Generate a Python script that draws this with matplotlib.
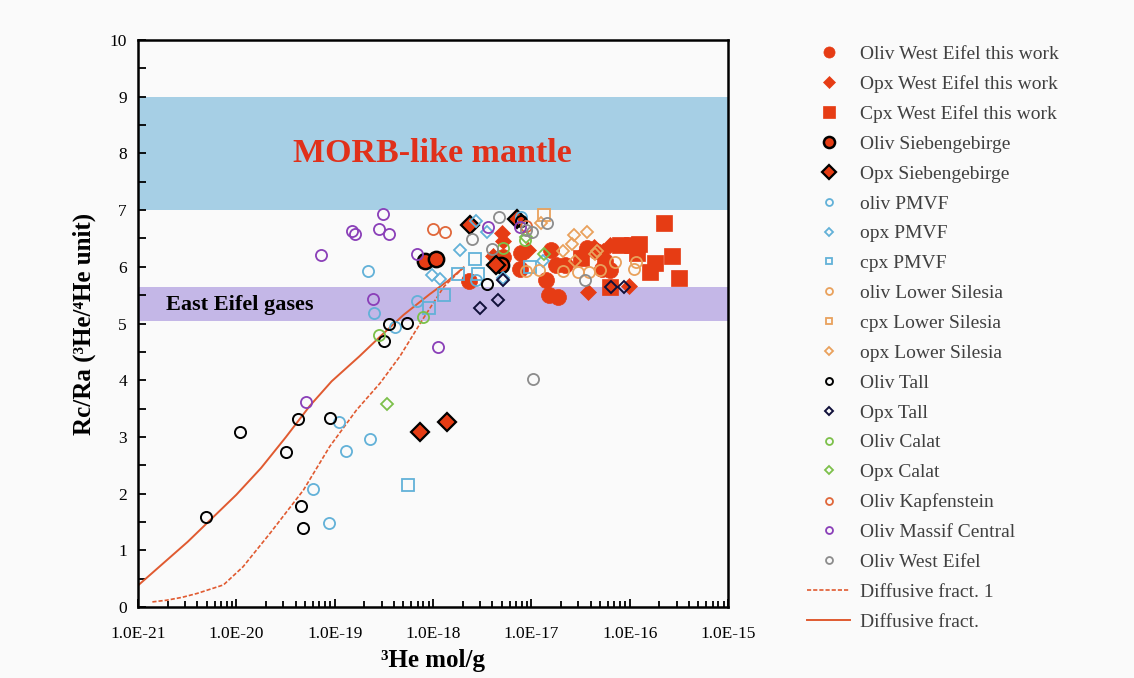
import numpy as np
import matplotlib
matplotlib.use('Agg')
import matplotlib.pyplot as plt
from matplotlib.ticker import FixedLocator, MultipleLocator, LogLocator, NullFormatter

plt.rcParams['font.family'] = ['Liberation Serif', 'DejaVu Serif']

# ---- data (x = 3He mol/g, y = Rc/Ra) ----
oliv_we_x = [2.3e-18, 5.2e-18, 7.8e-18, 7.6e-18, 1.4e-17, 1.6e-17, 1.5e-17, 1.85e-17,
             1.8e-17, 2.2e-17, 3.7e-17, 4.5e-17, 5.2e-17, 6.3e-17, 5.6e-17]
oliv_we_y = [5.75, 6.17, 6.24, 5.96, 5.77, 6.30, 5.50, 5.46,
             6.03, 6.03, 6.33, 6.28, 5.96, 5.94, 6.10]
opx_we_x = [5.0e-18, 5.2e-18, 9.3e-18, 4.1e-18, 3.8e-17, 9.8e-17, 4.3e-17, 5.4e-17, 3.2e-17, 6.3e-17]
opx_we_y = [6.59, 6.45, 6.30, 6.19, 5.56, 5.66, 6.35, 6.27, 6.20, 6.38]
cpx_we_x = [2.25e-16, 2.7e-16, 1.8e-16, 1.6e-16, 3.2e-16, 1.23e-16, 1.05e-16, 8.0e-17,
            6.3e-17, 3.2e-17, 1.2e-16]
cpx_we_y = [6.77, 6.19, 6.07, 5.90, 5.81, 6.41, 6.38, 6.38, 5.65, 6.15, 6.25]

oliv_sieb_x = [8.3e-19, 1.07e-18, 4.9e-18]
oliv_sieb_y = [6.11, 6.14, 6.03]
opx_sieb_x = [2.35e-18, 7.4e-19, 1.38e-18, 4.4e-18, 7.1e-18]
opx_sieb_y = [6.74, 3.09, 3.26, 6.04, 6.85]

oliv_pmvf_x = [2.2e-19, 2.5e-19, 6.9e-19, 4.1e-19, 1.1e-19, 1.3e-19, 2.3e-19, 6.0e-20,
               8.7e-20, 2.75e-18, 7.9e-18]
oliv_pmvf_y = [5.93, 5.19, 5.40, 4.93, 3.26, 2.76, 2.97, 2.08, 1.49, 5.77, 6.88]
opx_pmvf_x = [9.8e-19, 1.17e-18, 1.86e-18, 2.75e-18, 5.2e-18, 1.32e-17, 3.5e-18]
opx_pmvf_y = [5.86, 5.78, 6.30, 6.81, 5.81, 6.10, 6.62]
cpx_pmvf_x = [2.7e-18, 2.9e-18, 1.8e-18, 1.3e-18, 9.1e-19, 9.8e-18, 5.6e-19]
cpx_pmvf_y = [6.14, 5.88, 5.87, 5.50, 5.28, 5.99, 2.16]

oliv_ls_x = [3.0e-17, 3.9e-17, 7.1e-17, 1.1e-16, 1.17e-16, 2.1e-17, 1.2e-17, 8.9e-18, 5.0e-17]
oliv_ls_y = [5.91, 5.90, 6.09, 5.96, 6.09, 5.93, 5.94, 5.93, 5.94]
cpx_ls_x = [1.35e-17]
cpx_ls_y = [6.91]
opx_ls_x = [2.7e-17, 3.7e-17, 2.6e-17, 2.1e-17, 1.26e-17, 4.6e-17, 4.4e-17, 2.8e-17]
opx_ls_y = [6.56, 6.62, 6.40, 6.28, 6.78, 6.27, 6.22, 6.10]

oliv_tall_x = [4.9e-21, 1.1e-20, 3.2e-20, 4.2e-20, 4.5e-20, 4.8e-20, 8.9e-20, 3.55e-19,
               5.4e-19, 3.2e-19, 3.5e-18, 7.9e-18]
oliv_tall_y = [1.59, 3.08, 2.73, 3.32, 1.78, 1.40, 3.33, 5.00, 5.01, 4.69, 5.70, 6.80]
opx_tall_x = [3.0e-18, 4.6e-18, 5.1e-18, 6.5e-17, 8.7e-17]
opx_tall_y = [5.27, 5.41, 5.77, 5.64, 5.64]

oliv_calat_x = [2.8e-19, 7.9e-19, 5.2e-18, 8.7e-18]
oliv_calat_y = [4.80, 5.11, 6.33, 6.47]
opx_calat_x = [3.4e-19, 8.9e-18, 1.35e-17]
opx_calat_y = [3.58, 6.52, 6.23]

oliv_kapf_x = [1.0e-18, 1.32e-18, 8.9e-18]
oliv_kapf_y = [6.66, 6.62, 6.72]
oliv_mc_x = [3.1e-19, 1.5e-19, 1.6e-19, 2.8e-19, 3.55e-19, 7.2e-20, 6.8e-19, 2.45e-19,
             5.1e-20, 1.12e-18, 3.6e-18, 7.6e-18]
oliv_mc_y = [6.93, 6.64, 6.58, 6.67, 6.58, 6.21, 6.22, 5.44, 3.62, 4.58, 6.70, 6.71]
oliv_weo_x = [4.7e-18, 2.5e-18, 1.45e-17, 1.02e-17, 4.0e-18, 1.05e-17, 3.55e-17, 8.9e-18]
oliv_weo_y = [6.87, 6.49, 6.78, 6.61, 6.31, 4.02, 5.77, 6.65]

diff1_x = [1.4e-21, 1.95e-21, 2.8e-21, 4.0e-21, 7.4e-21, 1.17e-20, 2.2e-20, 4.8e-20,
           8.9e-20, 1.66e-19, 2.9e-19, 4.6e-19, 7.9e-19, 1.29e-18, 2.05e-18]
diff1_y = [0.09, 0.12, 0.17, 0.24, 0.39, 0.71, 1.30, 2.06, 2.83, 3.47, 3.95, 4.42, 5.08, 5.65, 5.99]
diff_x = [1.0e-21, 3.2e-21, 1.0e-20, 1.78e-20, 3.2e-20, 5.6e-20, 9.3e-20, 1.78e-19,
          2.9e-19, 5.0e-19, 9.3e-19, 1.41e-18, 2.05e-18]
diff_y = [0.38, 1.15, 1.98, 2.45, 3.00, 3.55, 3.98, 4.42, 4.77, 5.15, 5.52, 5.75, 5.99]

RED = '#e63c14'
PMVF = '#62b1d8'
LS = '#e9a15c'
CALAT = '#7cc04a'
KAPF = '#e0673a'
MC = '#8a3fb8'
GREY = '#8c8c8c'
LINE = '#e05a30'

fig = plt.figure(figsize=(11.34, 6.78), dpi=100, facecolor='#fafafa')
ax = fig.add_axes([0.1217, 0.1047, 0.5203, 0.8363])
ax.set_facecolor('#fafafa')

ax.axhspan(7, 9, color='#a6cfe5', zorder=0, lw=0)
ax.axhspan(5.05, 5.65, color='#c4b7e7', zorder=0, lw=0)
ax.text(9.8e-19, 8.0, 'MORB-like mantle', color='#e0301a', fontsize=24.5,
        fontweight='bold', ha='center', va='center')
ax.text(1.93e-21, 5.33, 'East Eifel gases', color='black', fontsize=16,
        fontweight='bold', ha='left', va='center')

handles = []
def pts(x, y, label, marker, ms, face, edge, mew=1.2, lms=None):
    h, = ax.plot(x, y, ls='none', marker=marker, ms=ms, mfc=face, mec=edge, mew=mew,
                 label=label, zorder=3)
    handles.append((h, lms))

pts(oliv_we_x, oliv_we_y, 'Oliv West Eifel this work', 'o', 11.5, RED, RED, 0.5, 8)
pts(opx_we_x, opx_we_y, 'Opx West Eifel this work', 'D', 8, RED, RED, 0.5, 6)
pts(cpx_we_x, cpx_we_y, 'Cpx West Eifel this work', 's', 11, RED, RED, 0.5, 8)
pts(oliv_sieb_x, oliv_sieb_y, 'Oliv Siebengebirge', 'o', 11, RED, 'black', 1.8, 8)
pts(opx_sieb_x, opx_sieb_y, 'Opx Siebengebirge', 'D', 9, RED, 'black', 1.6, 7)
pts(oliv_pmvf_x, oliv_pmvf_y, 'oliv PMVF', 'o', 8, 'none', PMVF, 1.3, 5)
pts(opx_pmvf_x, opx_pmvf_y, 'opx PMVF', 'D', 6, 'none', PMVF, 1.3, 4.5)
pts(cpx_pmvf_x, cpx_pmvf_y, 'cpx PMVF', 's', 8, 'none', PMVF, 1.3, 5)
pts(oliv_ls_x, oliv_ls_y, 'oliv Lower Silesia', 'o', 8, 'none', LS, 1.3, 5)
pts(cpx_ls_x, cpx_ls_y, 'cpx Lower Silesia', 's', 8, 'none', LS, 1.3, 5)
pts(opx_ls_x, opx_ls_y, 'opx Lower Silesia', 'D', 6, 'none', LS, 1.3, 4.5)
pts(oliv_tall_x, oliv_tall_y, 'Oliv Tall', 'o', 8, 'none', 'black', 1.4, 5)
pts(opx_tall_x, opx_tall_y, 'Opx Tall', 'D', 6, 'none', '#10103a', 1.4, 4.5)
pts(oliv_calat_x, oliv_calat_y, 'Oliv Calat', 'o', 8, 'none', CALAT, 1.3, 5)
pts(opx_calat_x, opx_calat_y, 'Opx Calat', 'D', 6, 'none', CALAT, 1.3, 4.5)
pts(oliv_kapf_x, oliv_kapf_y, 'Oliv Kapfenstein', 'o', 8, 'none', KAPF, 1.3, 5)
pts(oliv_mc_x, oliv_mc_y, 'Oliv Massif Central', 'o', 8, 'none', MC, 1.3, 5)
pts(oliv_weo_x, oliv_weo_y, 'Oliv West Eifel', 'o', 8, 'none', GREY, 1.3, 5)

l1, = ax.plot(diff1_x, diff1_y, ls=(0, (2.5, 1.2)), color=LINE, lw=1.2,
              label='Diffusive fract. 1', zorder=2)
l2, = ax.plot(diff_x, diff_y, ls='-', color=LINE, lw=1.4, label='Diffusive fract.', zorder=2)

ax.set_xscale('log')
ax.set_xlim(1e-21, 1e-15)
ax.set_ylim(0, 10)
ax.xaxis.set_major_locator(FixedLocator([10.0 ** e for e in range(-21, -14)]))
ax.xaxis.set_minor_locator(LogLocator(base=10, subs=np.arange(2, 10), numticks=100))
ax.xaxis.set_minor_formatter(NullFormatter())
ax.set_xticklabels(['1.0E-%d' % e for e in range(21, 14, -1)])
ax.yaxis.set_major_locator(MultipleLocator(1))
ax.yaxis.set_minor_locator(MultipleLocator(0.5))
ax.tick_params(axis='both', which='both', direction='in', labelsize=12.5, width=1.3,
               colors='black')
ax.tick_params(axis='y', which='major', pad=8)
ax.tick_params(axis='x', which='major', pad=14)
ax.tick_params(axis='both', which='major', length=6)
ax.tick_params(axis='both', which='minor', length=6)
ax.tick_params(axis='x', which='minor', length=4)
for s in ax.spines.values():
    s.set_linewidth(1.8)

ax.set_xlabel('³He mol/g', fontsize=18, fontweight='bold', labelpad=5)
ax.set_ylabel('Rc/Ra (³He/⁴He unit)', fontsize=18, fontweight='bold', labelpad=10)

hs = [h for h, _ in handles] + [l1, l2]
leg = fig.legend(hs, [h.get_label() for h in hs], loc='upper left',
                 bbox_to_anchor=(0.705, 0.945), frameon=False, fontsize=14,
                 labelspacing=0.63, handlelength=2.2, handletextpad=0.5,
                 borderaxespad=0)
for txt in leg.get_texts():
    txt.set_color('#404040')
for lh, (h, lms) in zip(leg.legend_handles, handles):
    if lms is not None:
        lh.set_markersize(lms)

fig.savefig('out.png', dpi=100, facecolor=fig.get_facecolor())
